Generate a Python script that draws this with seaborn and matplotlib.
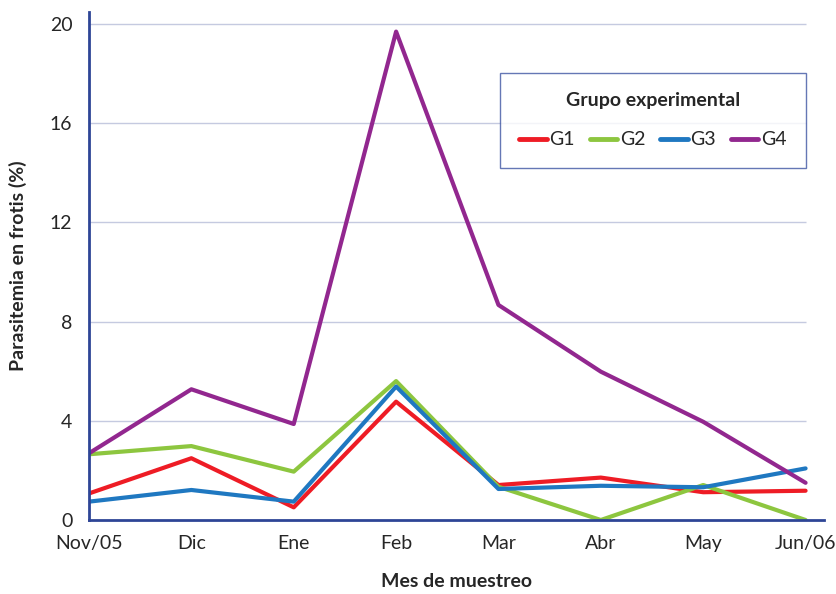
import matplotlib
matplotlib.use("Agg")
import matplotlib.pyplot as plt
import seaborn as sns
import pandas as pd

months = ["Nov/05", "Dic", "Ene", "Feb", "Mar", "Abr", "May", "Jun/06"]
g1 = [1.07, 2.49, 0.51, 4.77, 1.41, 1.71, 1.12, 1.18]
g2 = [2.65, 2.98, 1.95, 5.60, 1.34, 0.00, 1.41, 0.00]
g3 = [0.74, 1.21, 0.74, 5.38, 1.25, 1.38, 1.32, 2.08]
g4 = [2.69, 5.27, 3.87, 19.69, 8.67, 5.98, 3.96, 1.50]
groups = ["G1", "G2", "G3", "G4"]
yticks = [0, 4, 8, 12, 16, 20]

rows = []
for name, vals in zip(groups, [g1, g2, g3, g4]):
    for i, v in enumerate(vals):
        rows.append({"idx": i, "val": v, "grupo": name})
df = pd.DataFrame(rows)

sns.set_theme(style="white")
plt.rcParams["font.family"] = ["Lato", "DejaVu Sans"]

fig = plt.figure(figsize=(8.37, 5.94), dpi=100)
ax = fig.add_axes([89 / 837, 74 / 594, (824 - 89) / 837, (520 - 12) / 594])

palette = {"G1": "#EE1C25", "G2": "#8DC63F", "G3": "#1F78C1", "G4": "#92278F"}
spine_c = "#2E4596"

for t in yticks[1:]:
    ax.hlines(t, 0, len(months) - 1, color="#C5CAE0", lw=1, zorder=0)

sns.lineplot(data=df, x="idx", y="val", hue="grupo", hue_order=groups,
             palette=palette, lw=3.0, ax=ax, legend=True)

ax.set_xlim(0, 7.18)
ax.set_ylim(0, 20.48)
ax.set_xticks(range(len(months)))
ax.set_xticklabels(months, fontsize=14)
ax.set_yticks(yticks)
ax.set_yticklabels([str(t) for t in yticks], fontsize=14)
ax.tick_params(axis="x", direction="inout", length=8, width=1.5, color=spine_c, pad=7)
ax.tick_params(axis="y", length=0, pad=12)
for s in ["top", "right"]:
    ax.spines[s].set_visible(False)
for s in ["left", "bottom"]:
    ax.spines[s].set_color(spine_c)
    ax.spines[s].set_linewidth(2)

ax.set_xlabel("Mes de muestreo", fontsize=14, fontweight="bold", labelpad=15)
ax.set_ylabel("Parasitemia en frotis (%)", fontsize=14, fontweight="bold", labelpad=16)

handles, labels = ax.get_legend_handles_labels()
for h in handles:
    h.set_linewidth(3.5)
    h.set_solid_capstyle("round")
leg = ax.legend(handles, labels, title="Grupo experimental", ncol=4,
                loc="upper left", bbox_to_anchor=(0.559, 0.8805, 0.4165, 0.0),
                mode="expand", borderaxespad=0, fontsize=14,
                title_fontproperties={"weight": "bold", "size": 14},
                frameon=True, fancybox=False, edgecolor="#3E55A3", borderpad=1.0,
                handlelength=1.4, handletextpad=0.15, columnspacing=0.8, labelspacing=0.3)
leg.get_frame().set_linewidth(1.0)
leg._legend_box.sep = 16

fig.savefig("out.png", dpi=100)
